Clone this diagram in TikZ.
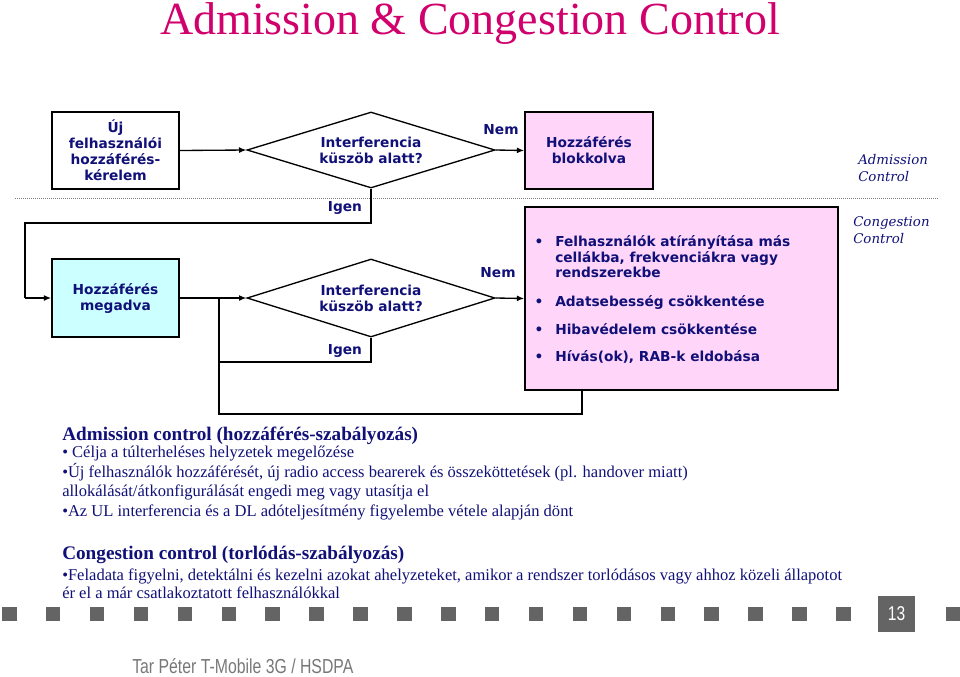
\documentclass[tikz,border=0pt]{standalone}
\usepackage{fontspec}
\setmainfont{Liberation Serif}
\newfontfamily\vfont{DejaVu Sans}
\newfontfamily\ifont{DejaVu Serif}
\newfontfamily\tfont{Liberation Serif}
\newfontfamily\nfont[FakeStretch=0.78]{Liberation Sans}
\usetikzlibrary{shapes.geometric,arrows.meta}
\definecolor{navy}{RGB}{16,16,120}
\definecolor{tmag}{RGB}{208,0,108}
\definecolor{pinkfill}{RGB}{255,214,250}
\definecolor{cyanfill}{RGB}{204,255,255}
\definecolor{sqgray}{RGB}{100,100,100}
\definecolor{footgray}{RGB}{120,120,120}
\begin{document}
\begin{tikzpicture}[x=0.75pt,y=-0.75pt,
  flowfont/.style={font=\vfont\bfseries\fontsize{10.3}{12}\selectfont, text=navy},
  fbox/.style={draw=black, line width=1.3pt, inner sep=0pt, align=center, flowfont},
  dia/.style={diamond, draw=black, line width=1pt, aspect=3.26, inner sep=0pt,
    minimum width=186pt, minimum height=57pt, align=center, flowfont},
  conn/.style={line width=1pt, draw=black},
  arr/.style={conn, -{Latex[length=5.5pt,width=4.5pt]}},
  lbl/.style={flowfont, inner sep=0pt},
  ital/.style={font=\ifont\itshape\fontsize{10}{12.75}\selectfont, text=navy, align=left, inner sep=0pt, anchor=north west},
  bodyhead/.style={font=\tfont\bfseries\fontsize{14.4}{18}\selectfont, text=navy, anchor=base west, inner sep=0pt},
  bodyline/.style={font=\tfont\fontsize{12.4}{15}\selectfont, text=navy, anchor=base west, inner sep=0pt},
  bul/.style={flowfont, inner sep=0pt, anchor=base},
  btxt/.style={flowfont, inner sep=0pt, anchor=base west}
]
\useasboundingbox (0,0) rectangle (960,676);

% title
\node[font=\fontsize{34.5}{38}\selectfont, text=tmag, anchor=base, inner sep=0pt] (title) at (470,34) {Admission \& Congestion Control};

% separator
\draw[gray, line width=0.6pt, dash pattern=on 0.75pt off 0.75pt] (15,198) -- (938,198);

% admission part
\node[fbox, fill=white, minimum width=95.25pt, minimum height=57.75pt] (req) at (115.5,150.5) {Új\\felhasználói\\hozzáférés-\\kérelem};
\node[dia] (d1) at (371,150) {Interferencia\\küszöb alatt?};
\node[fbox, fill=pinkfill, minimum width=96pt, minimum height=57.75pt] (blk) at (589,150.5) {Hozzáférés\\blokkolva};
\node[ital] (adm) at (858,154) {Admission\\Control};

% congestion part
\node[fbox, fill=cyanfill, minimum width=95.25pt, minimum height=58.5pt] (grant) at (115.5,298) {Hozzáférés\\megadva};
\node[dia, minimum height=58.5pt] (d2) at (371,298) {Interferencia\\küszöb alatt?};
\node[fbox, fill=pinkfill, minimum width=234.75pt, minimum height=137.25pt] (cong) at (681.5,298.5) {};
\node[ital] (cgc) at (853,216) {Congestion\\Control};

\node[bul] (b1) at (539,246) {•};
\node[btxt] (t1a) at (555,246) {Felhasználók atírányítása más};
\node[btxt] (t1b) at (555,262) {cellákba, frekvenciákra vagy};
\node[btxt] (t1c) at (555,277) {rendszerekbe};
\node[bul] (b2) at (539,306) {•};
\node[btxt] (t2) at (555,306) {Adatsebesség csökkentése};
\node[bul] (b3) at (539,334) {•};
\node[btxt] (t3) at (555,334) {Hibavédelem csökkentése};
\node[bul] (b4) at (539,361) {•};
\node[btxt] (t4) at (555,361) {Hívás(ok), RAB-k eldobása};

% labels
\node[lbl] (nem1) at (501,130) {Nem};
\node[lbl] (igen1) at (345,208) {Igen};
\node[lbl] (nem2) at (498,273) {Nem};
\node[lbl] (igen2) at (345,351) {Igen};

% helper coordinates
\coordinate (c1) at (371,223);
\coordinate (c2) at (25,223);
\coordinate (c3) at (25,298);
\coordinate (j) at (219,298);
\coordinate (c4) at (371,362);
\coordinate (c5) at (219,362);
\coordinate (c6) at (582,414);
\coordinate (c7) at (219,414);

% connectors
\draw[arr] (req.east) -- (d1.west);
\draw[arr] (d1.east) -- (blk.west);
\draw[conn] (d1.south) -- (c1) -- (c2) -- (c3);
\draw[arr] (c3) -- (grant.west);
\draw[arr] (grant.east) -- (d2.west);
\draw[arr] (d2.east) -- (cong.west);
\draw[conn] (d2.south) -- (c4) -- (c5);
\draw[conn] (cong.south -| c6) -- (c6) -- (c7) -- (j);

% text block
\node[bodyhead] (h1) at (62,440) {Admission control (hozzáférés-szabályozás)};
\node[bodyline] (l1) at (62,457) {• Célja a túlterheléses helyzetek megelőzése};
\node[bodyline] (l2) at (62,477) {•Új felhasználók hozzáférését, új radio access bearerek és összeköttetések (pl. handover miatt)};
\node[bodyline] (l3) at (62,496) {allokálását/átkonfigurálását engedi meg vagy utasítja el};
\node[bodyline] (l4) at (62,516) {•Az UL interferencia és a DL adóteljesítmény figyelembe vétele alapján dönt};
\node[bodyhead] (h2) at (62,559) {Congestion control (torlódás-szabályozás)};
\node[bodyline] (l5) at (62,580) {•Feladata figyelni, detektálni és kezelni azokat ahelyzeteket, amikor a rendszer torlódásos vagy ahhoz közeli állapotot};
\node[bodyline] (l6) at (62,598) {ér el a már csatlakoztatott felhasználókkal};

% footer squares
\foreach \k in {0,...,19} \fill[sqgray] ({2+43.9*\k},607) rectangle +(14.5,14);
\fill[sqgray] (945.5,607) rectangle (960,621);
\node[fill=sqgray, minimum width=27.75pt, minimum height=27pt, inner sep=0pt, text=white, font=\nfont\fontsize{15}{15}\selectfont] (pg) at (896.5,614) {13};
\node[font=\nfont\fontsize{15.2}{17}\selectfont, text=footgray, anchor=west, inner sep=0pt] (foot) at (132,666) {Tar Péter T-Mobile 3G / HSDPA};
\end{tikzpicture}
\end{document}
